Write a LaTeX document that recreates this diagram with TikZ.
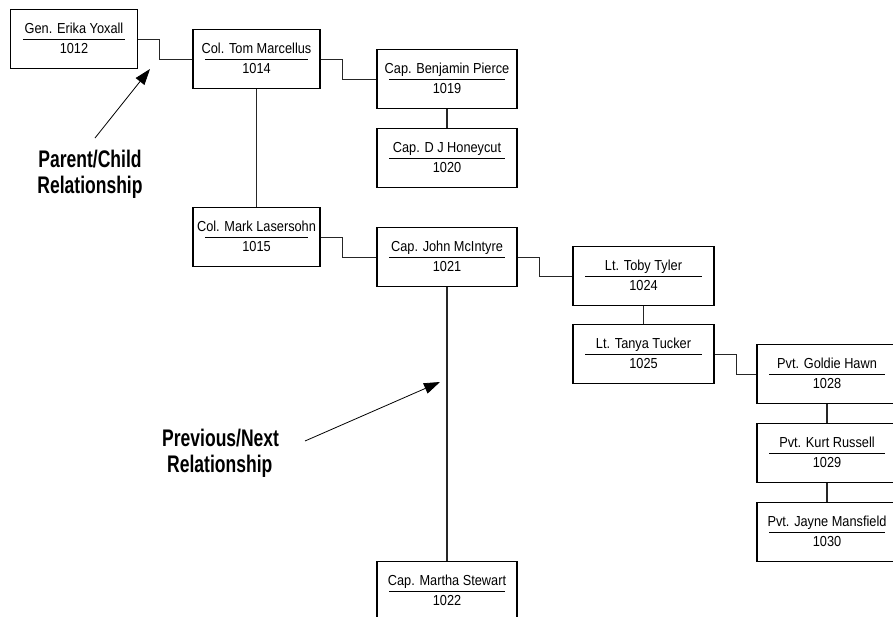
\documentclass[tikz,border=0pt]{standalone}
\usepackage{fontspec}
\newfontfamily\nmfont{Liberation Sans}[FakeStretch=0.88]
\newfontfamily\lblfont{Liberation Sans Bold}[FakeStretch=0.73]
\usetikzlibrary{calc,arrows.meta}
\tikzset{
  pbox/.style={draw=black, line width=1.2pt, fill=white, minimum height=59pt, inner sep=0pt},
  ptext/.style={inner sep=0pt, anchor=base, font=\nmfont\fontsize{14.5}{16}\selectfont, text=black},
  uline/.style={draw=black, line width=1pt},
  link/.style={draw=black!85, line width=1.1pt},
  lbl/.style={inner sep=0pt, anchor=base, font=\lblfont\fontsize{24}{25.5}\selectfont, text=black},
  note/.style={draw=black, line width=0.8pt, -{Triangle[length=16pt,width=11pt]}}
}
\newcommand{\pers}[6]{%
  \node[pbox, minimum width=#4pt, anchor=north] (#1) at (#2,#3) {};
  \node[ptext] (#1-t) at ($(#1.north)+(0,24)$) {#5};
  \draw[uline] ($(#1.north west)+(13,30)$) -- ($(#1.north east)+(-13,30)$);
  \node[ptext] (#1-n) at ($(#1.north)+(0,44.5)$) {#6};
}
\begin{document}
\begin{tikzpicture}[x=1pt,y=-1pt]
\useasboundingbox (0,0) rectangle (893,616);
\fill[white] (0,0) rectangle (893,616);
\clip (0,0) rectangle (893,616);
\pers{gen}{74}{9}{127}{Gen. Erika Yoxall}{1012}
\pers{tom}{256.5}{29}{127}{Col. Tom Marcellus}{1014}
\pers{ben}{447}{49}{140}{Cap. Benjamin Pierce}{1019}
\pers{hon}{447}{128}{140}{Cap. D J Honeycut}{1020}
\pers{mark}{256.5}{207}{127}{Col. Mark Lasersohn}{1015}
\pers{john}{447}{227}{140}{Cap. John McIntyre}{1021}
\pers{toby}{643.5}{246}{141}{Lt. Toby Tyler}{1024}
\pers{tanya}{643.5}{324}{141}{Lt. Tanya Tucker}{1025}
\pers{goldie}{827}{344}{140}{Pvt. Goldie Hawn}{1028}
\pers{kurt}{827}{423}{140}{Pvt. Kurt Russell}{1029}
\pers{jayne}{827}{502}{140}{Pvt. Jayne Mansfield}{1030}
\pers{martha}{447}{561}{140}{Cap. Martha Stewart}{1022}

\draw[link] (gen.east) -- ++(21,0) |- (tom.west);
\draw[link] (tom.east) -- ++(22,0) |- (ben.west);
\draw[link] (mark.east) -- ++(22,0) |- (john.west);
\draw[link] (john.east) -- ++(22,0) |- (toby.west);
\draw[link] (tanya.east) -- ++(22,0) |- (goldie.west);
\draw[link] (tom.south) -- (mark.north);
\draw[link] (ben.south) -- (hon.north);
\draw[link] (john.south) -- (martha.north);
\draw[link] (toby.south) -- (tanya.north);
\draw[link] (goldie.south) -- (kurt.north);
\draw[link] (kurt.south) -- (jayne.north);

\node[lbl, align=center] (pc) at (90,193) {Parent/Child\\Relationship};
\node[lbl, align=left, anchor=base west] (pn) at (162,472) {Previous/Next\\\hspace{5pt}Relationship};
\coordinate (pcTail) at (95,138);
\coordinate (pcTip) at (150,69);
\coordinate (pnTail) at (305,441);
\coordinate (pnTip) at (440,382);
\draw[note] (pcTail) -- (pcTip);
\draw[note] (pnTail) -- (pnTip);
\end{tikzpicture}
\end{document}
